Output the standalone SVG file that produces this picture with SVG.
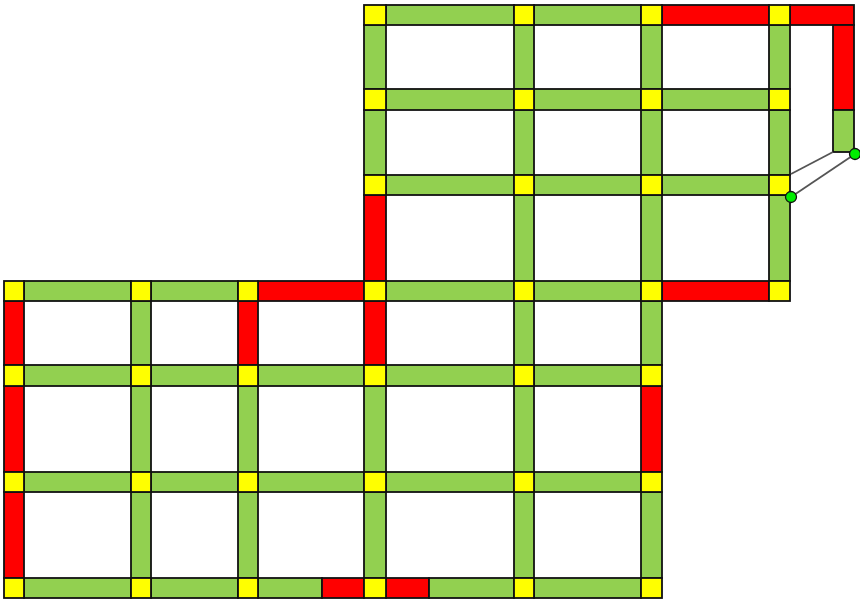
<svg xmlns="http://www.w3.org/2000/svg" width="860" height="601" viewBox="0 0 860 601">
<style>
.g{fill:#92D050;stroke:#111;stroke-width:1.8}
.r{fill:#FF0000;stroke:#111;stroke-width:1.8}
.y{fill:#FFFF00;stroke:#111;stroke-width:1.8}
.l{stroke:#555;stroke-width:1.8;fill:none}
.c{fill:#00EE00;stroke:#111;stroke-width:1.3}
</style>
<rect width="860" height="601" fill="#fff"/>
<g id="beams">
<!-- Row 1 -->
<rect class="g" x="386" y="5" width="128" height="20"/>
<rect class="g" x="534" y="5" width="107" height="20"/>
<rect class="r" x="662" y="5" width="107" height="20"/>
<rect class="r" x="790" y="5" width="64" height="20"/>
<!-- right stub -->
<rect class="r" x="833" y="25" width="21" height="85"/>
<rect class="g" x="833" y="110" width="21" height="42"/>
<!-- Row 2 -->
<rect class="g" x="386" y="89" width="128" height="21"/>
<rect class="g" x="534" y="89" width="107" height="21"/>
<rect class="g" x="662" y="89" width="107" height="21"/>
<!-- Row 3 -->
<rect class="g" x="386" y="175" width="128" height="20"/>
<rect class="g" x="534" y="175" width="107" height="20"/>
<rect class="g" x="662" y="175" width="107" height="20"/>
<!-- Row 4 -->
<rect class="g" x="24" y="281" width="107" height="20"/>
<rect class="g" x="151" y="281" width="87" height="20"/>
<rect class="r" x="258" y="281" width="106" height="20"/>
<rect class="g" x="386" y="281" width="128" height="20"/>
<rect class="g" x="534" y="281" width="107" height="20"/>
<rect class="r" x="662" y="281" width="107" height="20"/>
<!-- Row 5 -->
<rect class="g" x="24" y="365" width="107" height="21"/>
<rect class="g" x="151" y="365" width="87" height="21"/>
<rect class="g" x="258" y="365" width="106" height="21"/>
<rect class="g" x="386" y="365" width="128" height="21"/>
<rect class="g" x="534" y="365" width="107" height="21"/>
<!-- Row 6 -->
<rect class="g" x="24" y="472" width="107" height="20"/>
<rect class="g" x="151" y="472" width="87" height="20"/>
<rect class="g" x="258" y="472" width="106" height="20"/>
<rect class="g" x="386" y="472" width="128" height="20"/>
<rect class="g" x="534" y="472" width="107" height="20"/>
<!-- Row 7 -->
<rect class="g" x="24" y="578" width="107" height="20"/>
<rect class="g" x="151" y="578" width="87" height="20"/>
<rect class="g" x="258" y="578" width="64" height="20"/>
<rect class="r" x="322" y="578" width="42" height="20"/>
<rect class="r" x="386" y="578" width="43" height="20"/>
<rect class="g" x="429" y="578" width="85" height="20"/>
<rect class="g" x="534" y="578" width="107" height="20"/>
<!-- Col 1 -->
<rect class="r" x="4" y="301" width="20" height="64"/>
<rect class="r" x="4" y="386" width="20" height="86"/>
<rect class="r" x="4" y="492" width="20" height="86"/>
<!-- Col 2 -->
<rect class="g" x="131" y="301" width="20" height="64"/>
<rect class="g" x="131" y="386" width="20" height="86"/>
<rect class="g" x="131" y="492" width="20" height="86"/>
<!-- Col 3 -->
<rect class="r" x="238" y="301" width="20" height="64"/>
<rect class="g" x="238" y="386" width="20" height="86"/>
<rect class="g" x="238" y="492" width="20" height="86"/>
<!-- Col 4 -->
<rect class="g" x="364" y="25" width="22" height="64"/>
<rect class="g" x="364" y="110" width="22" height="65"/>
<rect class="r" x="364" y="195" width="22" height="86"/>
<rect class="r" x="364" y="301" width="22" height="64"/>
<rect class="g" x="364" y="386" width="22" height="86"/>
<rect class="g" x="364" y="492" width="22" height="86"/>
<!-- Col 5 -->
<rect class="g" x="514" y="25" width="20" height="64"/>
<rect class="g" x="514" y="110" width="20" height="65"/>
<rect class="g" x="514" y="195" width="20" height="86"/>
<rect class="g" x="514" y="301" width="20" height="64"/>
<rect class="g" x="514" y="386" width="20" height="86"/>
<rect class="g" x="514" y="492" width="20" height="86"/>
<!-- Col 6 -->
<rect class="g" x="641" y="25" width="21" height="64"/>
<rect class="g" x="641" y="110" width="21" height="65"/>
<rect class="g" x="641" y="195" width="21" height="86"/>
<rect class="g" x="641" y="301" width="21" height="64"/>
<rect class="r" x="641" y="386" width="21" height="86"/>
<rect class="g" x="641" y="492" width="21" height="86"/>
<!-- Col 7 -->
<rect class="g" x="769" y="25" width="21" height="64"/>
<rect class="g" x="769" y="110" width="21" height="65"/>
<rect class="g" x="769" y="195" width="21" height="86"/>
</g>
<g id="joints">
<rect class="y" x="364" y="5" width="22" height="20"/>
<rect class="y" x="514" y="5" width="20" height="20"/>
<rect class="y" x="641" y="5" width="21" height="20"/>
<rect class="y" x="769" y="5" width="21" height="20"/>
<rect class="y" x="364" y="89" width="22" height="21"/>
<rect class="y" x="514" y="89" width="20" height="21"/>
<rect class="y" x="641" y="89" width="21" height="21"/>
<rect class="y" x="769" y="89" width="21" height="21"/>
<rect class="y" x="364" y="175" width="22" height="20"/>
<rect class="y" x="514" y="175" width="20" height="20"/>
<rect class="y" x="641" y="175" width="21" height="20"/>
<rect class="y" x="769" y="175" width="21" height="20"/>
<rect class="y" x="4" y="281" width="20" height="20"/>
<rect class="y" x="131" y="281" width="20" height="20"/>
<rect class="y" x="238" y="281" width="20" height="20"/>
<rect class="y" x="364" y="281" width="22" height="20"/>
<rect class="y" x="514" y="281" width="20" height="20"/>
<rect class="y" x="641" y="281" width="21" height="20"/>
<rect class="y" x="769" y="281" width="21" height="20"/>
<rect class="y" x="4" y="365" width="20" height="21"/>
<rect class="y" x="131" y="365" width="20" height="21"/>
<rect class="y" x="238" y="365" width="20" height="21"/>
<rect class="y" x="364" y="365" width="22" height="21"/>
<rect class="y" x="514" y="365" width="20" height="21"/>
<rect class="y" x="641" y="365" width="21" height="21"/>
<rect class="y" x="4" y="472" width="20" height="20"/>
<rect class="y" x="131" y="472" width="20" height="20"/>
<rect class="y" x="238" y="472" width="20" height="20"/>
<rect class="y" x="364" y="472" width="22" height="20"/>
<rect class="y" x="514" y="472" width="20" height="20"/>
<rect class="y" x="641" y="472" width="21" height="20"/>
<rect class="y" x="4" y="578" width="20" height="20"/>
<rect class="y" x="131" y="578" width="20" height="20"/>
<rect class="y" x="238" y="578" width="20" height="20"/>
<rect class="y" x="364" y="578" width="22" height="20"/>
<rect class="y" x="514" y="578" width="20" height="20"/>
<rect class="y" x="641" y="578" width="21" height="20"/>
</g>
<g id="connectors">
<line class="l" x1="791" y1="174" x2="833" y2="152"/>
<line class="l" x1="791" y1="197" x2="855" y2="154"/>
</g>
<g id="anchors">
<circle class="c" cx="855" cy="154" r="5.5"/>
<circle class="c" cx="791" cy="197" r="5.5"/>
</g>
</svg>
